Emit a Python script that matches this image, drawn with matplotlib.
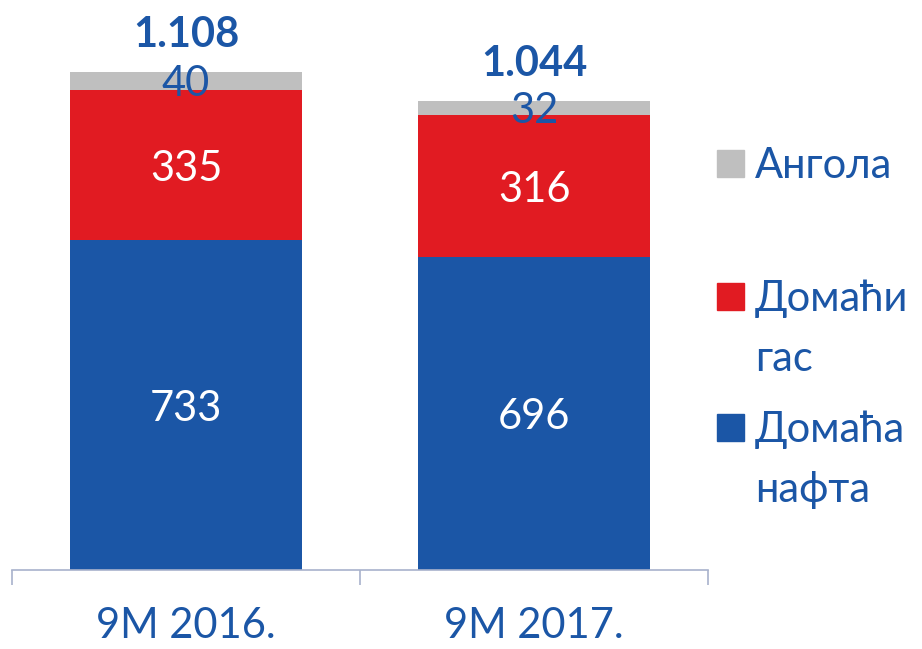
import matplotlib.pyplot as plt
from matplotlib.patches import Rectangle

plt.rcParams['font.family'] = ['Lato', 'DejaVu Sans']

# data
categories = ['9M 2016.', '9M 2017.']
nafta = [733, 696]
gas = [335, 316]
angola = [40, 32]
totals = ['1.108', '1.044']
legend_labels = ['Ангола', 'Домаћи\nгас', 'Домаћа\nнафта']

blue = '#1B56A6'
red = '#E11B22'
grey = '#BFBFBF'

fig = plt.figure(figsize=(9.22, 6.49), dpi=100)
ax = fig.add_axes([12 / 922, 79 / 649, 696 / 922, 570 / 649])

x = range(len(categories))
bottom2 = [a + b for a, b in zip(nafta, gas)]
b1 = ax.bar(x, nafta, width=0.667, color=blue)
b2 = ax.bar(x, gas, bottom=nafta, width=0.667, color=red)
b3 = ax.bar(x, angola, bottom=bottom2, width=0.667, color=grey)

labels = []
labels += ax.bar_label(b1, label_type='center', color='white', fontsize=30)
labels += ax.bar_label(b2, label_type='center', color='white', fontsize=30)
labels += ax.bar_label(b3, label_type='center', color=blue, fontsize=30)
for t in labels:
    t.set_va('center_baseline')

# totals above bars
for i, t in enumerate(totals):
    top = nafta[i] + gas[i] + angola[i]
    ax.annotate(t, (i, top), xytext=(0, 18), textcoords='offset points',
                ha='center', va='baseline', fontsize=30, fontweight='bold', color=blue)

ax.set_xlim(-0.5, 1.5)
ax.set_ylim(0, 1268)
ax.set_yticks([])
for s in ['left', 'right', 'top']:
    ax.spines[s].set_visible(False)
ax.spines['bottom'].set_color('#A8B2CC')
ax.spines['bottom'].set_linewidth(1.2)

ax.set_xticks(list(x))
ax.set_xticklabels(categories, fontsize=30, color=blue)
ax.tick_params(axis='x', which='major', length=0, pad=27)
ax.set_xticks([-0.5, 0.5, 1.5], minor=True)
ax.tick_params(axis='x', which='minor', length=11, width=1.2, color='#A8B2CC')

# legend drawn by hand, one text per line
leg_colors = [grey, red, blue]
leg_y = [163, 296, 427]
for lab, c, yy in zip(legend_labels, leg_colors, leg_y):
    fig.patches.append(Rectangle((717 / 922, 1 - (yy + 13.5) / 649), 27 / 922, 27 / 649,
                                 transform=fig.transFigure, color=c))
    for k, line in enumerate(lab.split('\n')):
        fig.text(755 / 922, 1 - (yy + 15 + 60 * k) / 649, line, fontsize=30, color=blue,
                 va='baseline', ha='left')

fig.savefig('out.png', dpi=100)
